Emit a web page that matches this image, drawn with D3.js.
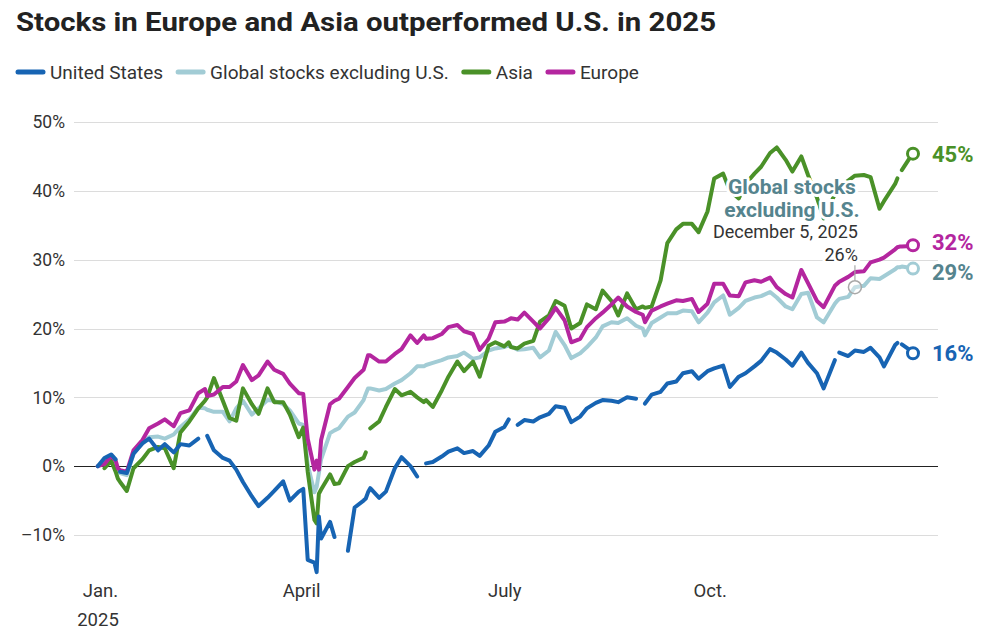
<!DOCTYPE html>
<meta charset="utf-8">
<head>
    <title>Stocks in Europe and Asia outperformed U.S. in 2025</title>
    <script src="https://cdn.jsdelivr.net/npm/d3@7"></script>
</head>

<style>
    body { margin: 0; background: #fff; }
    text { font-family: Roboto, "Noto Sans", sans-serif; fill: #333; }
    .grid { stroke: #dcdcdc; stroke-width: 1; }
    .zero { stroke: #222; stroke-width: 1; }
    .series { fill: none; stroke-width: 4; stroke-linejoin: round; stroke-linecap: round; }
    .halo { stroke: #fff; stroke-width: 6; stroke-linejoin: round; paint-order: stroke; }
</style>
<svg></svg>

<script>
    var vWidth = 996;
    var vHeight = 642;

    var vDates = ["2024-12-31","2025-01-03","2025-01-06","2025-01-08","2025-01-09","2025-01-10","2025-01-13","2025-01-16",
        "2025-01-20","2025-01-23","2025-01-27","2025-01-30","2025-02-03","2025-02-06","2025-02-10","2025-02-14",
        "2025-02-17","2025-02-18","2025-02-21","2025-02-25","2025-02-28","2025-03-03","2025-03-06","2025-03-10",
        "2025-03-13","2025-03-17","2025-03-20","2025-03-24","2025-03-27","2025-03-31","2025-04-02","2025-04-04",
        "2025-04-07","2025-04-08","2025-04-09","2025-04-10","2025-04-14","2025-04-16","2025-04-18","2025-04-22",
        "2025-04-25","2025-04-29","2025-04-30","2025-05-01","2025-05-02","2025-05-06","2025-05-09","2025-05-13",
        "2025-05-16","2025-05-20","2025-05-23","2025-05-26","2025-05-27","2025-05-30","2025-06-03","2025-06-06",
        "2025-06-10","2025-06-13","2025-06-17","2025-06-20","2025-06-24","2025-06-27","2025-07-01","2025-07-03",
        "2025-07-04","2025-07-07","2025-07-10","2025-07-14","2025-07-17","2025-07-21","2025-07-24","2025-07-28",
        "2025-07-31","2025-08-04","2025-08-07","2025-08-11","2025-08-14","2025-08-18","2025-08-21","2025-08-25",
        "2025-08-29","2025-09-01","2025-09-02","2025-09-05","2025-09-09","2025-09-12","2025-09-16","2025-09-19",
        "2025-09-23","2025-09-26","2025-09-30","2025-10-03","2025-10-07","2025-10-10","2025-10-14","2025-10-17",
        "2025-10-21","2025-10-24","2025-10-28","2025-10-31","2025-11-04","2025-11-07","2025-11-11","2025-11-14",
        "2025-11-18","2025-11-21","2025-11-26","2025-11-27","2025-11-28","2025-12-02","2025-12-05","2025-12-09",
        "2025-12-12","2025-12-16","2025-12-18","2025-12-23","2025-12-24","2025-12-25","2025-12-26","2025-12-30",
        "2025-12-31"];

    // % change since end of 2024
    var vUS = [0, 1.2, 1.7, 1.0, null, -0.8, -1.0, 1.8, 3.3, 4.0, 2.3, 3.2, 2.0, 3.2, 3.0, 4.0,
        null, 4.4, 2.3, 1.2, 0.8, -0.5, -2.3, -4.4, -5.8, -4.6, -3.6, -2.2, -5.0, -3.7, -3.3, -13.6,
        -14.0, -15.4, -7.3, -10.5, -8.1, -10.3, null, -12.3, -6.0, -5.0, -4.7, -3.8, -3.2, -4.6, -3.7, -0.3,
        1.3, 0.0, -1.5, null, 0.4, 0.6, 1.4, 2.1, 2.6, 1.9, 2.2, 1.5, 3.0, 5.0, 5.7, 6.8,
        null, 6.0, 6.7, 6.5, 7.1, 7.6, 8.7, 8.5, 6.4, 7.2, 8.4, 9.2, 9.6, 9.5, 9.3, 10.0,
        9.8, null, 9.1, 10.4, 10.8, 12.0, 12.3, 13.5, 13.8, 12.7, 13.8, 14.2, 14.6, 11.5, 13.0, 13.5,
        14.5, 15.3, 17.0, 16.5, 15.5, 14.6, 16.5, 15.0, 13.5, 11.3, 15.4, null, 16.5, 16.0, 16.8, 16.6,
        17.2, 15.8, 14.5, 17.6, 17.9, null, 17.7, 16.8, 16.4];
    var vGlobal = [0, 0.8, 0.8, -0.2, -0.5, -1.0, -1.3, 1.8, 3.4, 4.2, 4.3, 4.0, 4.6, 5.7, 6.8, 8.5,
        8.4, 8.2, 7.9, 7.9, 6.5, 8.4, 9.5, 7.5, 8.4, 9.6, 9.5, 9.0, 8.1, 6.2, 6.0, 0.2,
        -3.8, -3.0, -1.0, 1.0, 4.8, 5.2, 5.5, 7.2, 7.8, 9.6, 10.5, 11.3, 11.3, 11.0, 11.2, 12.0,
        12.5, 13.5, 14.5, 14.5, 14.7, 15.0, 15.4, 15.8, 16.0, 16.5, 15.6, 15.8, 16.8, 17.1, 17.3, 17.6,
        17.4, 16.9, 17.0, 17.2, 15.8, 16.8, 19.5, 17.6, 15.7, 16.4, 17.3, 18.7, 20.3, 20.9, 20.8, 21.5,
        20.4, 20.0, 19.0, 20.8, 21.6, 22.2, 22.2, 22.6, 22.5, 20.9, 22.3, 23.8, 24.8, 22.0, 23.0, 24.0,
        24.5, 24.7, 25.3, 24.5, 23.2, 22.8, 25.0, 25.2, 21.6, 20.9, 23.6, 24.0, 24.3, 24.6, 26.0, 26.2,
        27.3, 27.2, 27.6, 28.6, 28.9, 28.9, 29.0, 28.8, 28.7];
    var vAsia = [null, -0.3, 0.8, -0.8, -1.8, -2.3, -3.6, -0.3, 1.0, 2.3, 2.8, 2.6, -0.3, 4.9, 6.5, 8.4,
        9.5, 10.0, 12.8, 9.5, 7.0, 6.6, 11.3, 9.0, 7.6, 11.3, 9.3, 9.3, 7.5, 4.2, 5.6, -0.8,
        -7.8, -8.3, -4.0, -3.4, -1.2, -2.6, -2.5, 0.0, 0.6, 1.2, 2.0, null, 5.5, 6.5, 8.6, 11.2,
        10.3, 10.8, 10.0, 9.3, 9.6, 8.6, 11.0, 13.0, 15.2, 13.8, 15.2, 13.0, 17.5, 18.0, 17.4, 18.0,
        17.3, 17.1, 17.8, 18.2, 21.0, 21.9, 24.0, 23.3, 20.0, 20.8, 23.5, 22.8, 25.5, 24.0, 21.9, 25.1,
        22.8, 23.2, 23.0, 23.2, 27.0, 32.4, 34.4, 35.2, 35.2, 34.0, 37.0, 41.8, 42.5, 40.0, 38.9, 41.0,
        42.5, 43.5, 45.5, 46.3, 44.5, 42.8, 45.0, 42.3, 39.0, 36.0, 39.5, 40.0, 40.5, 41.5, 42.2, 42.3,
        42.0, 37.4, 38.5, 41.0, 41.8, null, 43.0, 45.0, 45.4];
    var vEurope = [0, 0.3, 1.5, 0.8, -0.3, -0.6, -0.8, 2.3, 3.8, 5.5, 6.2, 6.8, 5.8, 7.7, 8.1, 10.6,
        11.2, 10.2, 10.4, 11.5, 11.5, 12.3, 14.7, 12.5, 13.2, 15.2, 14.0, 13.4, 12.0, 10.6, 10.5, 4.0,
        -0.5, 0.8, -0.5, 3.8, 9.0, 9.5, 9.8, 11.5, 12.8, 14.0, 15.0, 16.1, 16.1, 15.2, 15.2, 16.3,
        17.0, 19.0, 17.9, 19.0, 18.5, 18.6, 19.2, 20.2, 20.5, 19.6, 19.2, 16.9, 18.5, 20.9, 21.0, 21.3,
        21.5, 21.3, 22.3, 21.0, 20.0, 21.5, 23.0, 21.2, 18.0, 18.5, 20.2, 21.5, 22.3, 23.5, 24.5, 23.2,
        22.4, 22.0, 20.9, 22.6, 23.2, 23.6, 24.1, 24.0, 24.3, 22.4, 23.6, 26.5, 26.5, 24.8, 24.7, 26.7,
        27.0, 26.8, 27.4, 26.0, 25.0, 24.5, 28.5, 26.6, 24.0, 23.1, 26.2, 26.5, 26.8, 27.5, 28.2, 28.3,
        29.6, 30.0, 30.3, 31.5, 31.8, 31.9, 31.9, 32.0, 32.1];

    var vNames = ["United States", "Global stocks excluding U.S.", "Asia", "Europe"];
    var vColors = ["#1764b3", "#a2ccd5", "#4a9128", "#b4269f"];
    var vLabelColors = ["#1764b3", "#55848e", "#4a9128", "#b4269f"];
    var vYTicks = [-10, 0, 10, 20, 30, 40, 50];
    var vXTicks = ["2025-01-01", "2025-04-01", "2025-07-01", "2025-10-01"];
    var vXLabels = ["Jan.", "April", "July", "Oct."];
    var vNote = {date: "2025-12-05", title: ["Global stocks", "excluding U.S."], when: "December 5, 2025"};

    var vValues = [vUS, vGlobal, vAsia, vEurope];
    vValues.forEach(function (a, i) {
        if (a.length !== vDates.length) throw new Error(vNames[i] + ' has ' + a.length + ' values, dates ' + vDates.length);
    });

    var parse = d3.timeParse('%Y-%m-%d');
    var svg = d3.select('svg').attr('width', vWidth).attr('height', vHeight);

    var vX = d3.scaleTime().domain([parse('2025-01-01'), parse('2025-12-31')]).range([100, 913]);
    var vY = d3.scaleLinear().domain([-10, 50]).range([535, 122]);

    // title
    svg.append('text').attr('x', 16).attr('y', 31)
        .attr('textLength', 700).attr('lengthAdjust', 'spacingAndGlyphs')
        .style('font-size', '25px').style('font-weight', 700).style('fill', '#222')
        .text('Stocks in Europe and Asia outperformed U.S. in 2025');

    // legend
    var lx = 16;
    vNames.forEach(function (n, i) {
        var g = svg.append('g').attr('transform', 'translate(' + lx + ',72)');
        g.append('line').attr('x1', 2).attr('x2', 27).attr('y1', 0).attr('y2', 0)
            .attr('stroke', vColors[i]).attr('stroke-width', 5).attr('stroke-linecap', 'round');
        var t = g.append('text').attr('x', 34).attr('y', 6.5).style('font-size', '19px').text(n);
        lx += 34 + t.node().getComputedTextLength() + 13;
    });

    // grid
    svg.append('g').selectAll('line').data(vYTicks).enter().append('line')
        .attr('class', function (d) { return d === 0 ? 'zero' : 'grid'; })
        .attr('x1', 74).attr('x2', 938)
        .attr('y1', function (d) { return Math.round(vY(d)) + 0.5; })
        .attr('y2', function (d) { return Math.round(vY(d)) + 0.5; });
    svg.select('.zero').raise();

    svg.append('g').selectAll('text').data(vYTicks).enter().append('text')
        .attr('x', 65).attr('y', function (d) { return vY(d); }).attr('dy', '0.36em')
        .attr('text-anchor', 'end').style('font-size', '17.5px')
        .text(function (d) { return (d < 0 ? '\u2013' + Math.abs(d) : d) + '%'; });

    // x axis
    var gx = svg.append('g').attr('transform', 'translate(0,582)')
        .call(d3.axisBottom(vX).tickValues(vXTicks.map(parse))
            .tickFormat(function (d, i) { return vXLabels[i]; }).tickSize(0).tickPadding(2));
    gx.select('.domain').remove();
    gx.selectAll('text').style('font-size', '18.5px').style('font-family', 'Roboto, sans-serif').attr('fill', '#333');
    svg.append('text').attr('x', vX(parse('2025-01-01')) - 2).attr('y', 626)
        .attr('text-anchor', 'middle').style('font-size', '18.5px').text('2025');

    // lines
    var vLine = d3.line()
        .defined(function (d) { return d[1] != null; })
        .x(function (d) { return vX(parse(d[0])); })
        .y(function (d) { return vY(d[1]); });

    var vOrder = [1, 2, 3, 0];
    vOrder.forEach(function (i) {
        var pts = vDates.map(function (d, k) { return [d, vValues[i][k]]; });
        svg.append('path').attr('class', 'series').attr('stroke', vColors[i]).attr('d', vLine(pts));
    });

    // end markers and labels
    var vEnds = vValues.map(function (a, i) {
        var last = a.length - 1;
        return {i: i, v: a[last], x: vX(parse(vDates[last])), y: vY(a[last])};
    });
    vEnds.forEach(function (e) { e.ly = e.y; });
    var sorted = vEnds.slice().sort(function (a, b) { return a.y - b.y; });
    for (var k = 1; k < sorted.length; k++) {
        var gap = sorted[k].ly - sorted[k - 1].ly;
        if (gap < 30) { var s = (30 - gap) / 2; sorted[k - 1].ly -= s; sorted[k].ly += s; }
    }
    vEnds.forEach(function (e) {
        svg.append('circle').attr('cx', e.x).attr('cy', e.y).attr('r', 5.5)
            .attr('fill', '#fff').attr('stroke', vColors[e.i]).attr('stroke-width', 3);
        svg.append('text').attr('x', 932).attr('y', e.ly).attr('dy', '0.36em')
            .style('font-size', '22px').style('font-weight', 700).style('fill', vLabelColors[e.i])
            .text(Math.round(e.v) + '%');
    });

    // annotation for the global series
    var ni = vDates.indexOf(vNote.date);
    var nx = vX(parse(vNote.date));
    var ny = vY(vGlobal[ni]);
    var gn = svg.append('g');
    gn.append('circle').attr('cx', nx).attr('cy', ny).attr('r', 6.5)
        .attr('fill', 'rgba(255,255,255,0.4)').attr('stroke', '#a8a8a8').attr('stroke-width', 1.5);
    gn.append('line').attr('x1', nx).attr('x2', nx).attr('y1', ny - 7).attr('y2', ny - 22)
        .attr('stroke', '#a8a8a8').attr('stroke-width', 1.2);
    vNote.title.forEach(function (t, k) {
        gn.append('text').attr('class', 'halo').attr('x', nx - 63).attr('y', 194 + k * 23)
            .attr('text-anchor', 'middle').style('font-size', '21px').style('font-weight', 700)
            .style('fill', vLabelColors[1]).text(t);
    });
    gn.append('text').attr('class', 'halo').attr('x', nx + 3).attr('y', 238).attr('text-anchor', 'end')
        .style('font-size', '18px').text(vNote.when);
    gn.append('text').attr('class', 'halo').attr('x', nx + 3).attr('y', 261).attr('text-anchor', 'end')
        .style('font-size', '18px').text(Math.round(vGlobal[ni]) + '%');
</script>
